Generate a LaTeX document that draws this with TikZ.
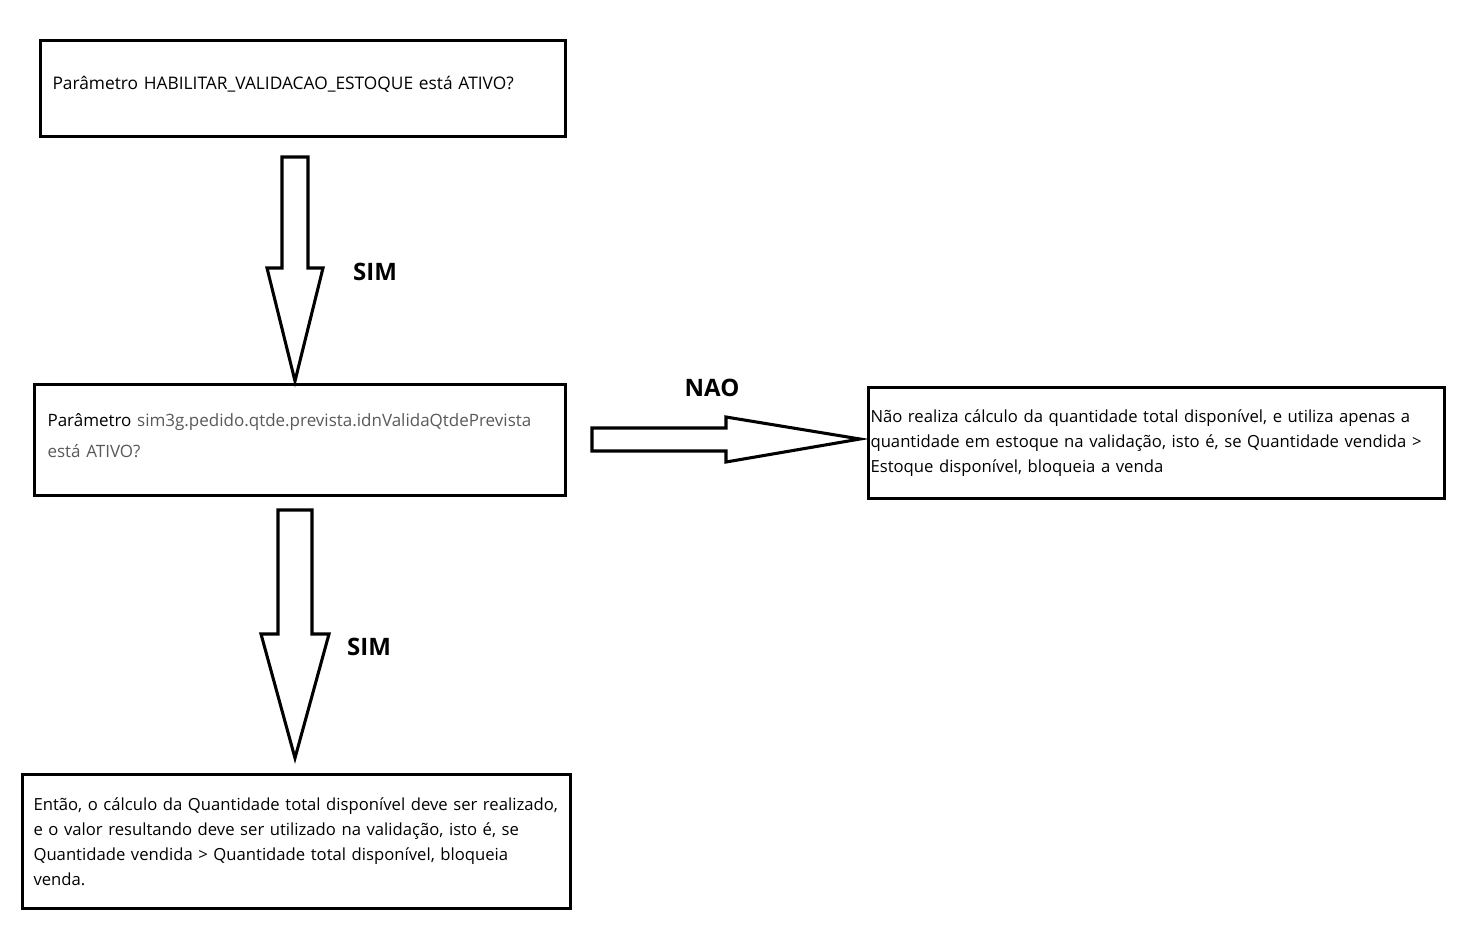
\documentclass[tikz,border=0pt]{standalone}
\usepackage{fontspec}
\setmainfont{Open Sans}
\definecolor{paramgray}{HTML}{595959}
\begin{document}
\begin{tikzpicture}[x=0.75pt,y=-0.75pt,
  box/.style={draw=black, line width=2.3pt, rectangle, align=left, font=\fontsize{12.5pt}{18.7pt}\selectfont, anchor=north west, inner ysep=0pt},
  blockarrow/.style={draw=black, line width=2.3pt, fill=white, line join=miter},
  lbl/.style={font=\bfseries\fontsize{18pt}{21pt}\selectfont}]
\useasboundingbox (0,0) rectangle (1474,950);
% boxes
\node[box, inner xsep=12*0.75pt, text width=(525-24)*0.75pt, minimum height=96*0.75pt,
  font=\fontsize{13pt}{18pt}\selectfont, text depth=9pt] (b1) at (39,39)
  {Parâmetro HABILITAR\_VALIDACAO\_ESTOQUE está ATIVO?};
\node[box, inner xsep=13*0.75pt, text width=(531-26)*0.75pt, minimum height=111*0.75pt,
  font=\fontsize{12.75pt}{23pt}\selectfont] (b2) at (33,383)
  {Parâmetro \textcolor{paramgray}{sim3g.pedido.qtde.prevista.idnValidaQtdePrevista}\\\textcolor{paramgray}{está ATIVO?}\strut};
\node[box, inner xsep=2*0.75pt, text width=(576-4)*0.75pt, minimum height=111*0.75pt] (b3) at (867,386)
  {Não realiza cálculo da quantidade total disponível, e utiliza apenas a\\quantidade em estoque na validação, isto é, se Quantidade vendida >\\Estoque disponível, bloqueia a venda};
\node[box, inner xsep=11*0.75pt, text width=(548-22)*0.75pt, minimum height=134*0.75pt] (b4) at (21,773)
  {Então, o cálculo da Quantidade total disponível deve ser realizado,\\e o valor resultando deve ser utilizado na validação, isto é, se\\Quantidade vendida > Quantidade total disponível, bloqueia\\venda.};
% block arrows
\coordinate (t1) at (295,381);
\draw[blockarrow] (282,157) -- (308,157) -- (308,268) -- (323,268) -- (t1) -- (267,268) -- (282,268) -- cycle;
\coordinate (t2) at (860,439);
\draw[blockarrow] (592,428) -- (726,428) -- (726,417) -- (t2) -- (726,462) -- (726,451) -- (592,451) -- cycle;
\coordinate (t3) at (295,758);
\draw[blockarrow] (278,510) -- (312,510) -- (312,634) -- (329,634) -- (t3) -- (261,634) -- (278,634) -- cycle;
% labels
\node[lbl] (sim1) at (375,272) {SIM};
\node[lbl] (nao) at (712,388) {NAO};
\node[lbl] (sim2) at (369,647) {SIM};
\end{tikzpicture}
\end{document}
